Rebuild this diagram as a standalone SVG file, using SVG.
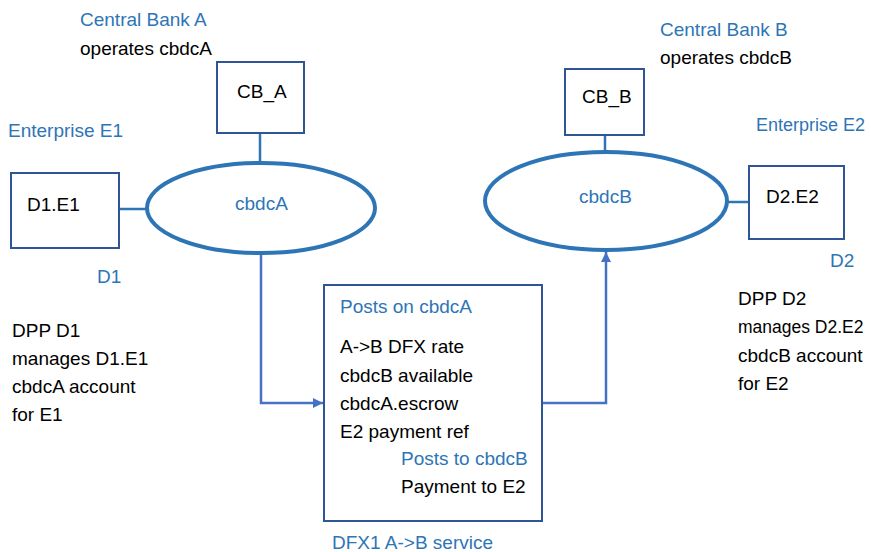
<svg xmlns="http://www.w3.org/2000/svg" width="871" height="552" viewBox="0 0 871 552">
<style>
text{font-family:"Liberation Sans",Arial,sans-serif;font-size:19px;fill:#000}
.b{fill:#2e75b6}
.box{fill:#fff;stroke:#2f5597;stroke-width:2}
.ell{fill:#fff;stroke:#2e75b6;stroke-width:4}
.ln{fill:none;stroke:#2e75b6;stroke-width:2.5}
.cn{fill:none;stroke:#4472c4;stroke-width:2.5}
</style>
<defs>
<marker id="ah" viewBox="0 0 10 10" refX="10" refY="5" markerWidth="10" markerHeight="10" markerUnits="userSpaceOnUse" orient="auto">
<path d="M0,0 L10,5 L0,10 Z" fill="#4472c4"/>
</marker>
</defs>
<rect width="871" height="552" fill="#fff"/>
<g id="connectors">
<line class="ln" x1="260" y1="133" x2="260" y2="163"/>
<line class="ln" x1="119" y1="209" x2="147" y2="209"/>
<line class="ln" x1="605" y1="135" x2="605" y2="152"/>
<line class="ln" x1="727" y1="202" x2="749" y2="202"/>
<path class="cn" d="M261,255 V403 H323" marker-end="url(#ah)"/>
<path class="cn" d="M543,403 H606 V252" marker-end="url(#ah)"/>
</g>
<g id="cbA-label">
<text class="b" x="80" y="26">Central Bank A</text>
<text x="80" y="55">operates cbdcA</text>
</g>
<g id="CB_A">
<rect class="box" x="217" y="62" width="87" height="71"/>
<text x="237" y="98">CB_A</text>
</g>
<g id="E1-label"><text class="b" x="8" y="137">Enterprise E1</text></g>
<g id="D1E1">
<rect class="box" x="11" y="173" width="108" height="75"/>
<text x="27" y="211">D1.E1</text>
</g>
<g id="cbdcA">
<ellipse class="ell" cx="261" cy="208" rx="114" ry="45"/>
<text class="b" x="235" y="210">cbdcA</text>
</g>
<g id="D1-label">
<text class="b" x="97" y="283">D1</text>
<text x="12" y="337">DPP D1</text>
<text x="12" y="365">manages D1.E1</text>
<text x="12" y="393">cbdcA account</text>
<text x="12" y="421">for E1</text>
</g>
<g id="cbB-label">
<text class="b" x="660" y="36">Central Bank B</text>
<text x="660" y="64">operates cbdcB</text>
</g>
<g id="CB_B">
<rect class="box" x="565" y="69" width="79" height="66"/>
<text x="582" y="103">CB_B</text>
</g>
<g id="E2-label"><text class="b" x="756" y="131" style="font-size:18px">Enterprise E2</text></g>
<g id="cbdcB">
<ellipse class="ell" cx="606" cy="201" rx="121" ry="49"/>
<text class="b" x="579" y="203">cbdcB</text>
</g>
<g id="D2E2">
<rect class="box" x="749" y="166" width="95" height="73"/>
<text x="766" y="203">D2.E2</text>
</g>
<g id="D2-label">
<text class="b" x="830" y="267">D2</text>
<text x="738" y="305">DPP D2</text>
<text x="738" y="333" style="font-size:17.5px">manages D2.E2</text>
<text x="738" y="362">cbdcB account</text>
<text x="738" y="390">for E2</text>
</g>
<g id="DFX1">
<rect class="box" x="324" y="285" width="218" height="236"/>
<text class="b" x="340" y="313">Posts on cbdcA</text>
<text x="340" y="353">A-&gt;B DFX rate</text>
<text x="340" y="382">cbdcB available</text>
<text x="340" y="410">cbdcA.escrow</text>
<text x="340" y="438">E2 payment ref</text>
<text class="b" x="401" y="465">Posts to cbdcB</text>
<text x="401" y="493">Payment to E2</text>
<text class="b" x="332" y="549">DFX1 A-&gt;B service</text>
</g>
</svg>
